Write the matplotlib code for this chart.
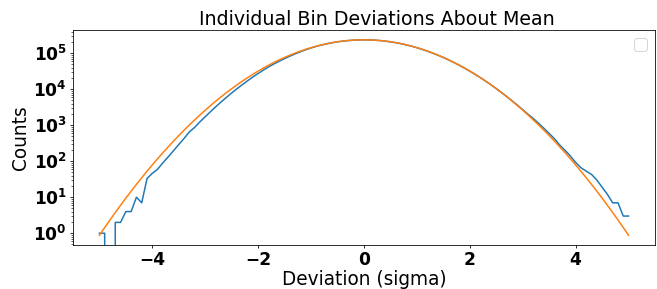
import numpy as np
import matplotlib
matplotlib.use('Agg')
import matplotlib.pyplot as plt
from matplotlib.ticker import LogLocator

# bin centres in units of sigma
dev = np.linspace(-5, 5, 101)

counts = [1, 1, 0, 2, 2, 4, 4, 10, 7, 33,
          46, 60, 90, 132, 195, 290, 430, 650, 870, 1240,
          1720, 2380, 3260, 4420, 5920, 7850, 10290, 13350, 17130, 21770,
          27350, 34020, 41860, 50400, 60100, 70960, 82900, 95900, 109800, 124500,
          139700, 154400, 168900, 182100, 195300, 207000, 216500, 224300, 230100, 233600,
          234800,
          233900, 230300, 224500, 216800, 207100, 196000, 183500, 170100, 156200, 141900,
          127700, 113800, 100400, 87700, 75900, 65000, 55100, 46300, 38500, 31700,
          25900, 20900, 16750, 13250, 10400, 8080, 6220, 4750, 3600, 2700,
          2020, 1530, 1130, 820, 590, 420, 280, 200, 140, 92,
          66, 53, 43, 30, 19, 12, 7, 7, 3, 3]

# expected (gaussian) counts
expected = [0.876, 1.44, 2.33, 3.75, 5.98, 9.43, 14.7, 22.7, 34.8, 52.6,
            78.8, 117, 172, 250, 360, 514, 726, 1015, 1400, 1920,
            2610, 3510, 4660, 6140, 8000, 10330, 13190, 16690, 20900, 25920,
            31800, 38660, 46510, 55390, 65330, 76300, 88200, 100960, 114400, 128330,
            142530, 156750, 170640, 183930, 196300, 207390, 216930, 224660, 230350, 233830,
            235000,
            233830, 230350, 224660, 216930, 207390, 196300, 183930, 170640, 156750, 142530,
            128330, 114400, 100960, 88200, 76300, 65330, 55390, 46510, 38660, 31800,
            25920, 20900, 16690, 13190, 10330, 8000, 6140, 4660, 3510, 2610,
            1920, 1400, 1015, 726, 514, 360, 250, 172, 117, 78.8,
            52.6, 34.8, 22.7, 14.7, 9.43, 5.98, 3.75, 2.33, 1.44, 0.876]

fig = plt.figure(figsize=(657/72, 289/72), dpi=72)
ax = fig.add_axes([0.111, 0.152, 0.886, 0.744])

ax.plot(dev, counts)
ax.plot(dev, expected)
ax.set_yscale('log')
ax.yaxis.set_major_locator(LogLocator(base=10, numticks=20))

ax.set_title('Individual Bin Deviations About Mean', fontsize=19, pad=5, x=0.522)
ax.set_xlabel('Deviation (sigma)', fontsize=18.5, labelpad=1)
ax.set_ylabel('Counts', fontsize=18.5, labelpad=3)
ax.tick_params(which='major', length=3, pad=3, labelsize=17)
ax.tick_params(which='minor', length=2)
for lab in ax.get_xticklabels() + ax.get_yticklabels():
    lab.set_fontweight('bold')
ax.legend(handles=[], loc='upper right', fontsize=16)

plt.savefig('out.png', dpi=72)
